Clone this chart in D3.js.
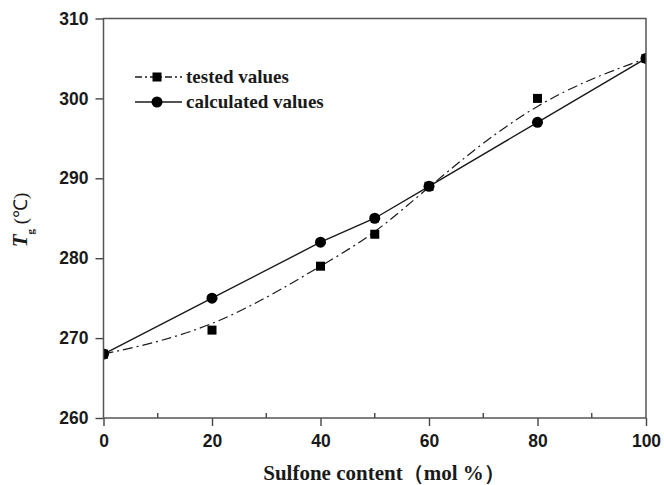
<!DOCTYPE html>
<html><head><meta charset="utf-8">
<script src="https://cdn.jsdelivr.net/npm/d3@7"></script>
<style>body{margin:0;background:#fff}</style>
</head><body>
<svg id="c" width="664" height="485"></svg>
<script>
const sulfone = [0, 20, 40, 50, 60, 80, 100];
const tested = [268, 271, 279, 283, 289, 300, 305];
const calculated = [268, 275, 282, 285, 289, 297, 305];
const xTicks = [0, 20, 40, 60, 80, 100];
const yTicks = [260, 270, 280, 290, 300, 310];
const legendLabels = ["tested values", "calculated values"];

const svg = d3.select("#c");
const L = 103.5, R = 646, T = 18.5, B = 418;
const x = d3.scaleLinear().domain([0, 100]).range([L, R]);
const y = d3.scaleLinear().domain([260, 310]).range([B, T]);
const col = "#1a1a1a";

svg.append("defs").append("clipPath").attr("id", "pc")
  .append("rect").attr("x", L).attr("y", T).attr("width", R - L).attr("height", B - T);

// x axis
const xa = svg.append("g").attr("transform", `translate(0,${B})`)
  .call(d3.axisBottom(x).tickValues(xTicks).tickSize(8).tickSizeOuter(0).tickPadding(9));
xa.select(".domain").remove();
xa.selectAll("line").attr("stroke", "#444").attr("stroke-width", 1.4);
xa.selectAll("text").attr("font-family", "Liberation Sans, Arial, sans-serif")
  .attr("font-weight", "bold").attr("font-size", 17.5).attr("fill", col);
// minor x ticks (inward)
svg.append("g").selectAll("line").data(d3.range(10, 100, 20)).join("line")
  .attr("x1", d => x(d)).attr("x2", d => x(d)).attr("y1", B).attr("y2", B - 5)
  .attr("stroke", "#444").attr("stroke-width", 1.4);

// y axis
const ya = svg.append("g").attr("transform", `translate(${L},0)`)
  .call(d3.axisLeft(y).tickValues(yTicks).tickSize(8).tickSizeOuter(0).tickPadding(7));
ya.select(".domain").remove();
ya.selectAll("line").attr("stroke", "#444").attr("stroke-width", 1.4);
ya.selectAll("text").attr("font-family", "Liberation Sans, Arial, sans-serif")
  .attr("font-weight", "bold").attr("font-size", 17.5).attr("fill", col);

// plot contents (clipped)
const pg = svg.append("g").attr("clip-path", "url(#pc)");
const pts = (vals) => sulfone.map((s, i) => [s, vals[i]]);
const lineCurve = d3.line().x(d => x(d[0])).y(d => y(d[1])).curve(d3.curveBasis);
const lineStraight = d3.line().x(d => x(d[0])).y(d => y(d[1]));
pg.append("path").attr("d", lineCurve(pts(tested))).attr("fill", "none")
  .attr("stroke", col).attr("stroke-width", 1.2).attr("stroke-dasharray", "10,4,2,4");
pg.append("path").attr("d", lineStraight(pts(calculated))).attr("fill", "none")
  .attr("stroke", col).attr("stroke-width", 1.4);
pg.append("g").selectAll("rect").data(pts(tested)).join("rect")
  .attr("x", d => x(d[0]) - 4.5).attr("y", d => y(d[1]) - 4.5)
  .attr("width", 9).attr("height", 9).attr("fill", "#000");
pg.append("g").selectAll("circle").data(pts(calculated)).join("circle")
  .attr("cx", d => x(d[0])).attr("cy", d => y(d[1])).attr("r", 5.5).attr("fill", "#000");

// frame
svg.append("rect").attr("x", L).attr("y", T).attr("width", R - L).attr("height", B - T)
  .attr("fill", "none").attr("stroke", "#555").attr("stroke-width", 1.5);

// legend
const lg = svg.append("g");
const ly = [77, 102];
lg.append("line").attr("x1", 135).attr("x2", 182).attr("y1", ly[0]).attr("y2", ly[0])
  .attr("stroke", col).attr("stroke-width", 1.3).attr("stroke-dasharray", "7,3,2,3");
lg.append("rect").attr("x", 157 - 4.5).attr("y", ly[0] - 4.5).attr("width", 9).attr("height", 9).attr("fill", "#000");
lg.append("line").attr("x1", 135).attr("x2", 182).attr("y1", ly[1]).attr("y2", ly[1])
  .attr("stroke", col).attr("stroke-width", 1.4);
lg.append("circle").attr("cx", 157).attr("cy", ly[1]).attr("r", 5.5).attr("fill", "#000");
lg.selectAll("text").data(legendLabels).join("text")
  .attr("x", 186).attr("y", (d, i) => ly[i] + 6)
  .attr("font-family", "Liberation Serif, Times New Roman, serif").attr("font-weight", "bold")
  .attr("font-size", 19).attr("fill", col).text(d => d);

// axis titles
svg.append("text").attr("x", 384).attr("y", 480).attr("text-anchor", "middle")
  .attr("font-family", "Liberation Serif, Times New Roman, serif").attr("font-weight", "bold")
  .attr("font-size", 21).attr("fill", col).text("Sulfone content（mol %）");

const yt = svg.append("text").attr("transform", "translate(27,220) rotate(-90)")
  .attr("text-anchor", "middle")
  .attr("font-family", "Liberation Serif, Times New Roman, serif").attr("font-weight", "bold")
  .attr("font-size", 20).attr("fill", col);
yt.append("tspan").attr("font-style", "italic").attr("font-size", 21).text("T");
yt.append("tspan").attr("font-size", 11).attr("dy", 7).text("g");
yt.append("tspan").attr("dy", -7).attr("font-weight", "normal").attr("font-size", 19).text(" (℃)");
</script>
</body></html>
